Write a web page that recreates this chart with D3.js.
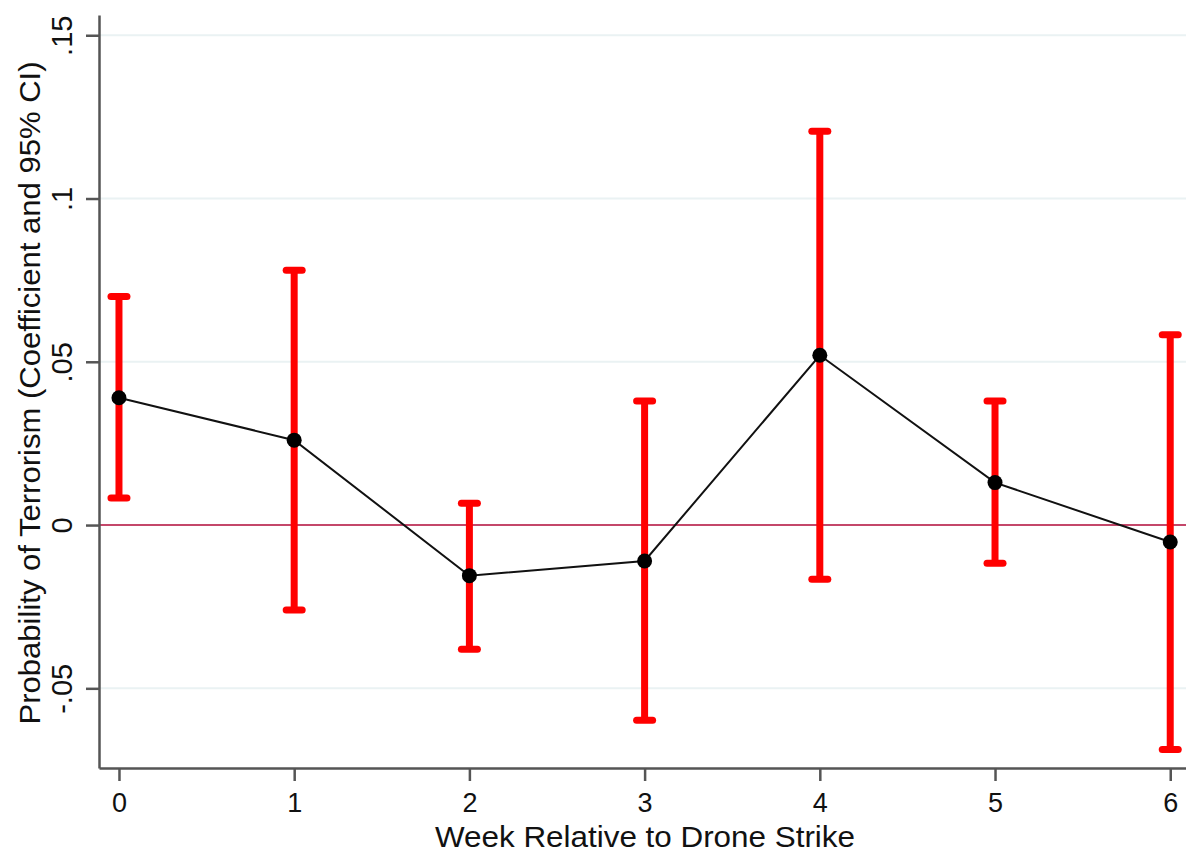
<!DOCTYPE html>
<html>
<head>
<meta charset="utf-8">
<script src="https://cdn.jsdelivr.net/npm/d3@7"></script>
<style>
  body { margin: 0; background: #fff; }
  svg { display: block; font-family: "Liberation Sans", Arial, sans-serif; }
</style>
</head>
<body>
<svg id="chart"></svg>
<script>
// weeks relative to the strike, point estimates and 95% CI bounds
const weeks = [0, 1, 2, 3, 4, 5, 6];
const coef  = [0.039, 0.026, -0.0155, -0.011, 0.052, 0.013, -0.0052];
const ciLow = [0.0083, -0.026, -0.038, -0.0598, -0.0166, -0.0117, -0.0687];
const ciHigh = [0.070, 0.078, 0.0067, 0.038, 0.1206, 0.038, 0.0583];
const yTicks = [-0.05, 0, 0.05, 0.1, 0.15];
const yTickLabels = ["-.05", "0", ".05", ".1", ".15"];

const w = 1186, h = 853;
const svg = d3.select("#chart").attr("width", w).attr("height", h);

const x = d3.scaleLinear().domain([-0.114, 6.09]).range([99, 1186]);
const y = d3.scaleLinear().domain([-0.0744, 0.1562]).range([768, 15]);

const data = weeks.map((wk, i) => ({ wk, c: coef[i], lo: ciLow[i], hi: ciHigh[i] }));

// grid lines
svg.append("g")
  .selectAll("line")
  .data(yTicks.filter(t => t !== 0))
  .join("line")
  .attr("x1", 99).attr("x2", w)
  .attr("y1", d => y(d)).attr("y2", d => y(d))
  .attr("stroke", "#eaf2f3").attr("stroke-width", 2);

// zero reference line
svg.append("line")
  .attr("x1", 99).attr("x2", w)
  .attr("y1", y(0)).attr("y2", y(0))
  .attr("stroke", "#c4476a").attr("stroke-width", 2);

// axes
const yAxis = d3.axisLeft(y).tickValues(yTicks)
  .tickFormat((d, i) => yTickLabels[i]).tickSize(13).tickSizeOuter(0);
const gy = svg.append("g").attr("transform", "translate(99,0)").call(yAxis);
gy.select(".domain").attr("stroke", "#555").attr("stroke-width", 2.5);
gy.selectAll(".tick line").attr("stroke", "#555").attr("stroke-width", 2.5);
gy.selectAll(".tick text")
  .attr("x", 0).attr("dy", 0)
  .attr("transform", "translate(-27,0) rotate(-90)")
  .attr("text-anchor", "middle")
  .style("font-size", "29px").attr("fill", "#111");

const xAxis = d3.axisBottom(x).tickValues(weeks).tickFormat(d3.format("d"))
  .tickSize(13).tickSizeOuter(0);
const gx = svg.append("g").attr("transform", "translate(0,768)").call(xAxis);
gx.select(".domain").attr("stroke", "#555").attr("stroke-width", 2.5);
gx.selectAll(".tick line").attr("stroke", "#555").attr("stroke-width", 2.5);
gx.selectAll(".tick text").attr("y", 44).attr("dy", 0)
  .style("font-size", "27px").attr("fill", "#111");

// axis titles
svg.append("text")
  .attr("x", 645).attr("y", 847)
  .attr("text-anchor", "middle")
  .attr("textLength", 420).attr("lengthAdjust", "spacingAndGlyphs")
  .style("font-size", "29px").attr("fill", "#111")
  .text("Week Relative to Drone Strike");

svg.append("text")
  .attr("transform", "translate(40,393) rotate(-90)")
  .attr("text-anchor", "middle")
  .attr("textLength", 663).attr("lengthAdjust", "spacingAndGlyphs")
  .style("font-size", "29px").attr("fill", "#111")
  .text("Probability of Terrorism (Coefficient and 95% CI)");

// confidence intervals
const ci = svg.append("g").attr("stroke", "#ff0000").attr("stroke-linecap", "round");
ci.selectAll("line.bar").data(data).join("line").attr("class", "bar")
  .attr("x1", d => x(d.wk)).attr("x2", d => x(d.wk))
  .attr("y1", d => y(d.lo)).attr("y2", d => y(d.hi))
  .attr("stroke-width", 7).attr("stroke-linecap", "butt");
ci.selectAll("line.capHi").data(data).join("line").attr("class", "capHi")
  .attr("x1", d => x(d.wk) - 8).attr("x2", d => x(d.wk) + 8)
  .attr("y1", d => y(d.hi)).attr("y2", d => y(d.hi))
  .attr("stroke-width", 7);
ci.selectAll("line.capLo").data(data).join("line").attr("class", "capLo")
  .attr("x1", d => x(d.wk) - 8).attr("x2", d => x(d.wk) + 8)
  .attr("y1", d => y(d.lo)).attr("y2", d => y(d.lo))
  .attr("stroke-width", 7);

// coefficient line and points
svg.append("path").datum(data)
  .attr("fill", "none").attr("stroke", "#111").attr("stroke-width", 2)
  .attr("d", d3.line().x(d => x(d.wk)).y(d => y(d.c)));

svg.append("g").selectAll("circle").data(data).join("circle")
  .attr("cx", d => x(d.wk)).attr("cy", d => y(d.c))
  .attr("r", 7.5).attr("fill", "#000");
</script>
</body>
</html>
